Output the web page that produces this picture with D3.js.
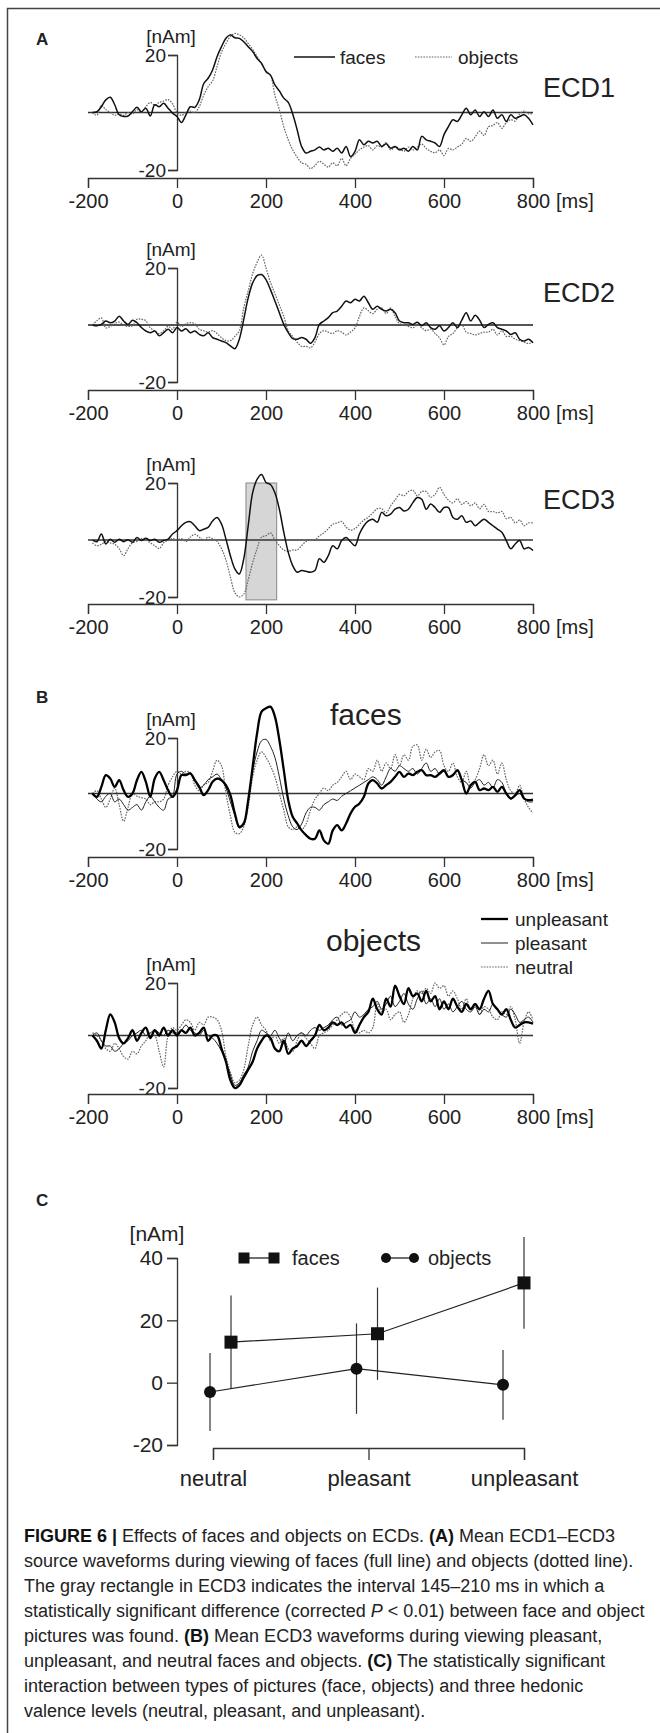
<!DOCTYPE html>
<html><head><meta charset="utf-8">
<script src="https://cdn.jsdelivr.net/npm/d3@7"></script>
<style>
body{margin:0;background:#fff}
svg text{font-family:"Liberation Sans",Arial,sans-serif;fill:#222}
</style></head><body>
<svg id="fig" width="660" height="1733"></svg>
<script>
// ---------- DATA ----------
const times = [-190,-180,-170,-160,-150,-140,-130,-120,-110,-100,
 -90,-80,-70,-60,-50,-40,-30,-20,-10,0,
 10,20,30,40,50,60,70,80,90,100,
 110,120,130,140,150,160,170,180,190,200,
 210,220,230,240,250,260,270,280,290,300,
 310,320,330,340,350,360,370,380,390,400,
 410,420,430,440,450,460,470,480,490,500,
 510,520,530,540,550,560,570,580,590,600,
 610,620,630,640,650,660,670,680,690,700,
 710,720,730,740,750,760,770,780,790,800];

const ecd1Faces = [0,0.3,2,4.4,5.3,2.7,-0.8,-1.4,-1.2,0.3,
 1.8,0.3,1.5,-1.2,2.7,2,3.2,1.5,-0.2,-1.4,
 -3.5,-0.8,2,1.8,4.4,10,11.9,14.8,19.4,22.9,
 25.8,27,26,25.8,24.6,22.9,21.2,18.8,17.1,14.2,
 13,9.6,7.5,5,3.5,-0.5,-6,-11.8,-14.1,-13.5,
 -13,-12,-13,-12.4,-13.5,-12.4,-14.1,-11.8,-15.3,-13.5,
 -9.5,-11.2,-10,-10.6,-10,-11.8,-10.9,-12.4,-11.8,-13,
 -12.4,-13.5,-11.8,-13,-8.3,-9.5,-10,-10.6,-11.8,-7.7,
 -4.9,-2.5,-3.1,-0.8,1.5,-0.8,0.9,-1.4,0.3,-1.4,
 0.9,-2,-0.8,-3.1,-0.8,-2,-1.4,-0.8,-2,-4.3];
const ecd1Objects = [0,-1,2.5,1,0,-1,-0.5,-1,0,-0.5,
 1,0,2,3.5,2.5,3.5,4,4.5,3,0,
 -1,0,0.5,0,2,6,9,11,16,21,
 24,26.5,27.5,27,26,24,22,19.5,17,14.5,
 13,6,1,-5,-9.5,-13,-15.5,-17.5,-18,-19.5,
 -18.5,-17,-18,-19,-17.5,-18.5,-16,-18.5,-16,-14.5,
 -13,-12,-11.5,-13,-11.5,-12,-10.5,-13,-12,-12.5,
 -13.5,-12,-13,-12,-11,-12.5,-13.5,-14,-13,-15,
 -12.5,-13,-12,-11,-9,-10,-8.5,-6.5,-8,-5,
 -4.5,-3.5,-5.5,-3.5,-2.5,-3,-0.5,0.5,-0.5,-0.3];

const ecd2Faces = [0,-0.3,0.2,1.4,0.8,1.4,3.1,1.4,0.2,1.7,
 0.8,-0.9,-2.1,-2.7,-2.1,-3.8,-2.7,-1.5,-2.7,-0.9,
 -2.1,-1.3,-2.7,-2.1,-3.3,-3.8,-2.7,-4.4,-5,-5.6,
 -6.2,-7.3,-8.3,-5,2,9.5,14.8,17.3,17.7,15.9,
 12.4,8.4,4.3,0.2,-2.7,-4.8,-5,-4.4,-5,-6.4,
 -4.4,0.2,1.4,2.6,4.3,4.9,6.6,8.4,7.8,9,
 8.4,10.1,7.8,5.5,6.6,5.5,4.9,5.5,4.3,1.4,
 0.8,0.8,0.2,1,-0.3,0.8,-0.9,-1.5,-0.3,-2.1,
 -0.9,0.8,-0.9,1.7,4.3,1.4,3.4,1.7,-0.9,0.2,
 0.8,-0.9,-1.5,-2.1,-3.3,-2.7,-5,-5.6,-5,-6.2];
const ecd2Objects = [0,1.5,2.5,-1,-0.5,0.5,1,0,-0.5,-0.3,
 2,2,1.5,-1,-2,-3,-2,-0.5,-1.5,1,
 -0.5,0.5,0.8,0.5,-1.5,-2,-2.5,-2,-3,-4.5,
 -5.5,-5.5,-4,-2,6,12,18,22,24.5,20,
 15,11,7,3,-2,-4,-6,-7.5,-7.5,-8,
 -6,-3,-2,-2.5,-3,-2,-2.5,-3.5,-2.5,-1,
 3,6,5,4,5.5,6,4,6,3,0.5,
 0,-0.5,-1,0,-1,-2,-1.5,-3,-4.5,-7,
 -4,-3,-1,0,-2.5,-3,-3.5,-3,-2.5,-2.5,
 -1.5,-3.5,-2,-4,-4,-5,-5.5,-6,-6.5,-6];

const ecd3Faces = [0,-0.6,2.1,-1.4,0.3,-0.8,0.3,-0.6,0.1,-0.8,
 0.9,-0.2,0.6,-0.2,0.3,-0.8,-0.2,0.3,2.1,3.3,
 5,6.2,6.4,5,3.3,3.8,4.4,6.7,7.9,5.6,
 0.3,-5.5,-10.1,-11.9,-6.6,5,16.6,21.3,23,20.2,
 19.5,16.6,10.8,2.7,-4.3,-9,-11.3,-10.7,-11,-11.3,
 -10.7,-6.6,-7.8,-5.5,-2,-3.1,-0.2,0.9,-0.6,-2,
 2.1,5,6.7,7.3,6.2,9.7,8.5,9.1,10.8,11.4,
 10.2,10.8,13.1,14.9,14.3,10.8,12.6,11.4,9.7,11.4,
 11.4,7.9,7.3,8.5,6.2,6.7,5,6.2,7.3,6.2,
 5,3.8,2.7,-0.2,-3.1,-1.4,-0.2,-3.1,-2.6,-3.7];
const ecd3Objects = [-1,-2,-1.5,-0.5,-1,-1.5,-3,-5.5,-3,-1,
 -0.5,0.5,0,-1,-2,-3,-1,0,0.5,0,
 0.5,-0.5,1,2,1,0,1,0.5,-0.5,-3,
 -7,-13,-18.5,-20,-19,-14,-8,-3,1,1.5,
 2.5,0,-2,-3.5,-4,-3.5,-3.5,-2,-0.5,0,
 0,1.5,2.5,4,5.5,6,6.5,4.5,3.5,4,
 5.5,7,8,9.5,11,11,9.5,12,14,16,
 15.5,17,17.5,15.5,17,17,15,16,18.5,16,
 14,13,14.5,12.5,13.5,12,13,11,12.5,10,
 10,9.5,10,7.5,8,6,7,5,6,6];

const bFacesUnpleasant = [0,-1.2,2.4,6.6,5.4,2.4,4.8,1.2,-1.2,0,
 4.8,7.8,4.2,-1.2,5.4,7.8,4.8,1.2,-1.2,1.2,
 6.6,6.6,7.2,4.8,2.4,-0.6,1.2,4.2,5.4,4.8,
 3,-0.6,-7.2,-12,-10.8,-2.4,9.6,21.7,29.5,30.7,
 31.3,27.7,19.3,8.4,-2.4,-8.4,-10.8,-13.3,-15,-16.3,
 -16.3,-13.3,-16.9,-18.1,-13.3,-11.4,-13.3,-10.8,-7.2,-4.8,
 -3.6,-1.2,3.6,4.8,3.6,1.8,3,4.2,6,7.8,
 6,7.2,6.6,7.8,8.4,6.6,6.6,6,7.2,8.4,
 6,6.6,8.4,4.8,0,3,4.2,1.2,1.8,1.2,
 2.4,0.6,2.4,0,-1.8,-0.6,1.2,-1.8,-2.4,-2.2];
const bFacesPleasant = [0,-2,-3,-1,0,-3,-2,-4,-6,-5,
 -4,-6,-3,-1,-3,-5,-6,-2,-1,7,
 8,7,7.5,5,2,3,5,6,7,5,
 2,-3,-8,-12.5,-11,-3,8,15,19,19.5,
 17,13,6,-2,-8,-12,-13,-11,-7,-5,
 -5,-6,-4,-3,-2,-2.5,-1,0,1,2,
 3,4,5,6,5,3,6,9,8,10,
 9,8,9,7,9,11,8,9,7,8,
 6,7,8,5,4,2,4,5,3,4,
 2,5,4,0,-2,-1,0,-2,-3,-3];
const bFacesNeutral = [0,1,-2,-5,-2,2,-4,-10,-5,0,
 -1,-1.5,-2,-4,-3,-3,-2,3,6,8,
 7,8,7.5,3,1,3,4,8,12,10,
 0,-8,-14,-14.5,-12,-5,6,12,15,13,
 10,6,0,-6,-12,-13,-12,-13,-11,-6,
 -2,0,2,1,3,4,6,8,5,7,
 6,5,9,8,12,8,11,9,14,10,
 14,12,17,17.5,12,16,13,15,15.5,10,
 8,11,6,4,8,3,5,9,14,10,
 12,7,11,5,1,0,3,-2,-5,-7];

const bObjectsUnpleasant = [0,-2,-5,2,8,5,-1,-3,-1,2,
 -2,1,3,-1,2,0,3,0,2,0,
 2,1,3,0,1,3,-2,0,0,-5,
 -10,-17,-20,-19,-16,-13,-10,-5,-2,0,
 -1,-5,-6,-2,-7,-5,-4,-2,-4,-2,
 0,4,2,3,5,4,5,3,4,1,
 4,7,9,14,10,8,14,11,19,15,
 12,18,15,16,13,17,13,15,10,13,
 10,14,11,9,12,10,12,10,14,17,
 12,10,8,10,6,3,4,5,5,4.5];
const bObjectsPleasant = [0,1,-2,-4,-4,-6,-5,-3,-2,0,
 1,2,0,1,2,1,0,2,1,1,
 2,4,2,1,0,2,0,-1,-3,-6,
 -10,-15,-19,-18,-15,-12,-6,-2,2,1,
 0,2,-1,-3,1,-2,0,1,0,2,
 3,2,3,4,6,7,4,5,6,9,
 7,8,10,11,13,10,12,15,11,13,
 16,12,10,14,17,12,14,11,14,10,
 12,9,11,13,10,9,11,8,10,9,
 12,10,8,7,10,8,5,6,7,5];
const bObjectsNeutral = [1,0,-2,-5,-6,-3,-5,-8,-9,-6,
 -7,-4,-2,1,0,-6,-12,0,3,2,
 4,6,5,2,5,4,7,7,6,2,
 -8,-14,-18,-17,-13,-4,4,7,4,2,
 -2,0,-3,-1,-5,-6,-2,1,-1,-3,
 -5,0,1,2,4,6,8,9,7,2,
 1,2,1,3,12,9,10,6,8,9,
 5,8,14,17,16,18,16,20,18,19,
 15,17,14,10,14,10,12,8,11,10,
 7,6,9,8,11,6,-3,5,9,6];

const timeTicks = [-200,0,200,400,600,800];
const waveYTicks = [-20,20];
const significantInterval = [155,224];

const valenceCategories = ["neutral","pleasant","unpleasant"];
const cFacesMean = [13,15.7,32];
const cFacesErr = [15,14.8,14.7];
const cObjectsMean = [-3,4.5,-0.7];
const cObjectsErr = [12.5,14.5,11.2];
const cYTicks = [-20,0,20,40];

// ---------- DRAW ----------
const FONT = '"Liberation Sans",Arial,sans-serif';
const svg = d3.select("#fig");
svg.append("rect").attr("width",660).attr("height",1733).attr("fill","#fff");
svg.append("path").attr("d","M7.5,1733V8.5H660").attr("fill","none").attr("stroke","#444").attr("stroke-width",1.5);

const x = d3.scaleLinear().domain([-200,800]).range([88,533]);

const styles = {
  solid:{stroke:"#111",width:1.5,dash:null},
  dotted:{stroke:"#666",width:1.2,dash:"1.6,1.2"},
  thick:{stroke:"#000",width:2.3,dash:null},
  thin:{stroke:"#222",width:1.0,dash:null}
};

function styleAxis(g,size){
  g.attr("font-family",FONT).attr("font-size",size).attr("color","#333");
  g.selectAll("path,line").attr("stroke-width",1.3);
  g.selectAll("text").attr("fill","#222");
}

function wavePanel(cfg){
  const y = d3.scaleLinear().domain([-20,20]).range([cfg.yBottom,cfg.yTop]);
  const g = svg.append("g");
  if(cfg.shade){
    g.append("rect").attr("x",x(cfg.shade[0])).attr("width",x(cfg.shade[1])-x(cfg.shade[0]))
      .attr("y",y(20)).attr("height",y(-21)-y(20))
      .attr("fill","#d6d6d6").attr("stroke","#888").attr("stroke-width",1);
  }
  g.append("line").attr("x1",x(-200)).attr("x2",x(800)).attr("y1",y(0)).attr("y2",y(0))
    .attr("stroke",cfg.zeroColor||"#333").attr("stroke-width",cfg.zeroWidth||1.3);
  const ya = g.append("g").attr("transform",`translate(${x(0)},0)`)
    .call(d3.axisLeft(y).tickValues(waveYTicks).tickSize(9).tickPadding(2).tickFormat(d=>String(d)));
  styleAxis(ya,19);
  const xa = g.append("g").attr("transform",`translate(0,${cfg.xAxisY})`)
    .call(d3.axisBottom(x).tickValues(timeTicks).tickSize(10).tickPadding(6).tickFormat(d=>String(d)));
  styleAxis(xa,20);
  g.append("text").attr("x",x(800)+23).attr("y",cfg.xAxisY+16).attr("dy","0.71em")
    .attr("font-size",20).text("[ms]");
  g.append("text").attr("x",x(0)-6).attr("y",y(20)-12).attr("text-anchor","middle")
    .attr("font-size",19).text("[nAm]");
  const line = d3.line().x((d,i)=>x(times[i])).y(d=>y(d)).curve(d3.curveCatmullRom.alpha(0.5));
  cfg.series.forEach(s=>{
    const st = styles[s.style];
    g.append("path").datum(s.values).attr("d",line).attr("fill","none")
      .attr("stroke",st.stroke).attr("stroke-width",st.width)
      .attr("stroke-dasharray",st.dash).attr("stroke-linejoin","round");
  });
  if(cfg.label){
    g.append("text").attr("x",cfg.label.x).attr("y",cfg.label.y).attr("font-size",cfg.label.size)
      .attr("fill","#333").text(cfg.label.text);
  }
  return y;
}

// Panel A
wavePanel({yTop:55,yBottom:170,xAxisY:178,
  series:[{values:ecd1Objects,style:"dotted"},{values:ecd1Faces,style:"solid"}],
  label:{text:"ECD1",x:543,y:97,size:27}});
wavePanel({yTop:268,yBottom:382,xAxisY:390,zeroColor:"#555",zeroWidth:2,
  series:[{values:ecd2Objects,style:"dotted"},{values:ecd2Faces,style:"solid"}],
  label:{text:"ECD2",x:543,y:302,size:27}});
wavePanel({yTop:483,yBottom:597,xAxisY:604,shade:significantInterval,
  series:[{values:ecd3Objects,style:"dotted"},{values:ecd3Faces,style:"solid"}],
  label:{text:"ECD3",x:543,y:509,size:27}});

// Panel B
wavePanel({yTop:738,yBottom:849,xAxisY:857,
  series:[{values:bFacesNeutral,style:"dotted"},{values:bFacesPleasant,style:"thin"},{values:bFacesUnpleasant,style:"thick"}],
  label:{text:"faces",x:330,y:725,size:30}});
wavePanel({yTop:983,yBottom:1088,xAxisY:1094,
  series:[{values:bObjectsNeutral,style:"dotted"},{values:bObjectsPleasant,style:"thin"},{values:bObjectsUnpleasant,style:"thick"}],
  label:{text:"objects",x:326,y:951,size:30}});

// Legend A
function legendLine(x1,x2,yy,style){
  const st = styles[style];
  svg.append("line").attr("x1",x1).attr("x2",x2).attr("y1",yy).attr("y2",yy)
    .attr("stroke",st.stroke).attr("stroke-width",st.width).attr("stroke-dasharray",st.dash);
}
legendLine(294,335,57,"solid");
svg.append("text").attr("x",340).attr("y",64).attr("font-size",19).text("faces");
legendLine(415,452,57,"dotted");
svg.append("text").attr("x",458).attr("y",64).attr("font-size",19).text("objects");

// Legend B
[["unpleasant","thick",926],["pleasant","thin",950],["neutral","dotted",974]].forEach(([t,s,yy])=>{
  legendLine(481,508,yy-7,s);
  svg.append("text").attr("x",515).attr("y",yy).attr("font-size",19).text(t);
});

// Panel letters
[["A",45],["B",703],["C",1206]].forEach(([t,yy])=>{
  svg.append("text").attr("x",36).attr("y",yy).attr("font-size",17).attr("font-weight","bold").attr("fill","#111").text(t);
});

// Panel C
const yC = d3.scaleLinear().domain([-20,40]).range([1445,1258]);
const xCTick = d3.scalePoint().domain(valenceCategories).range([213,524]);
const xCObj = d3.scalePoint().domain(valenceCategories).range([210,503]);
const xCFace = d3.scalePoint().domain(valenceCategories).range([231,524]);

const cya = svg.append("g").attr("transform","translate(177,0)")
  .call(d3.axisLeft(yC).tickValues(cYTicks).tickSize(10).tickPadding(4).tickFormat(d=>String(d)));
styleAxis(cya,21);
const cxa = svg.append("g").attr("transform","translate(0,1448)")
  .call(d3.axisBottom(xCTick).tickSize(12).tickPadding(10));
styleAxis(cxa,22);
svg.append("text").attr("x",157).attr("y",1241).attr("text-anchor","middle").attr("font-size",21).text("[nAm]");

const cData = valenceCategories.map((c,i)=>({c,fm:cFacesMean[i],fe:cFacesErr[i],om:cObjectsMean[i],oe:cObjectsErr[i]}));
const gC = svg.append("g");
gC.selectAll(".eo").data(cData).join("line")
  .attr("x1",d=>xCObj(d.c)).attr("x2",d=>xCObj(d.c))
  .attr("y1",d=>yC(d.om+d.oe)).attr("y2",d=>yC(d.om-d.oe))
  .attr("stroke","#333").attr("stroke-width",1.2);
gC.selectAll(".ef").data(cData).join("line")
  .attr("x1",d=>xCFace(d.c)).attr("x2",d=>xCFace(d.c))
  .attr("y1",d=>yC(d.fm+d.fe)).attr("y2",d=>yC(d.fm-d.fe))
  .attr("stroke","#333").attr("stroke-width",1.2);
gC.append("path").datum(cData).attr("d",d3.line().x(d=>xCFace(d.c)).y(d=>yC(d.fm)))
  .attr("fill","none").attr("stroke","#222").attr("stroke-width",1.2);
gC.append("path").datum(cData).attr("d",d3.line().x(d=>xCObj(d.c)).y(d=>yC(d.om)))
  .attr("fill","none").attr("stroke","#222").attr("stroke-width",1.2);
gC.selectAll(".sq").data(cData).join("rect")
  .attr("x",d=>xCFace(d.c)-6.5).attr("y",d=>yC(d.fm)-6.5).attr("width",13).attr("height",13).attr("fill","#111");
gC.selectAll(".ci").data(cData).join("circle")
  .attr("cx",d=>xCObj(d.c)).attr("cy",d=>yC(d.om)).attr("r",6).attr("fill","#111");

// Legend C
svg.append("line").attr("x1",244).attr("x2",274).attr("y1",1258).attr("y2",1258).attr("stroke","#222").attr("stroke-width",1.3);
[244,274].forEach(cx=>svg.append("rect").attr("x",cx-5.5).attr("y",1252.5).attr("width",11).attr("height",11).attr("fill","#111"));
svg.append("text").attr("x",292).attr("y",1265).attr("font-size",20).text("faces");
svg.append("line").attr("x1",386).attr("x2",414).attr("y1",1258).attr("y2",1258).attr("stroke","#222").attr("stroke-width",1.3);
[386,414].forEach(cx=>svg.append("circle").attr("cx",cx).attr("cy",1258).attr("r",5).attr("fill","#111"));
svg.append("text").attr("x",428).attr("y",1265).attr("font-size",20).text("objects");

// Caption
const captionLines = [
  [["FIGURE 6","b"],[" | ","b"],["Effects of faces and objects on ECDs. ",""],["(A)","b"],[" Mean ECD1–ECD3",""]],
  [["source waveforms during viewing of faces (full line) and objects (dotted line).",""]],
  [["The gray rectangle in ECD3 indicates the interval 145–210 ms in which a",""]],
  [["statistically significant difference (corrected ",""],["P","i"],[" < 0.01) between face and object",""]],
  [["pictures was found. ",""],["(B)","b"],[" Mean ECD3 waveforms during viewing pleasant,",""]],
  [["unpleasant, and neutral faces and objects. ",""],["(C)","b"],[" The statistically significant",""]],
  [["interaction between types of pictures (face, objects) and three hedonic",""]],
  [["valence levels (neutral, pleasant, and unpleasant).",""]]
];
captionLines.forEach((segs,i)=>{
  const t = svg.append("text").attr("x",24).attr("y",1542+i*25).attr("font-size",18).attr("fill","#3a3a3a").attr("xml:space","preserve");
  segs.forEach(([s,f])=>{
    const ts = t.append("tspan").text(s);
    if(f==="b") ts.attr("font-weight","bold").attr("fill","#111");
    if(f==="i") ts.attr("font-style","italic");
  });
});
</script>
</body></html>
